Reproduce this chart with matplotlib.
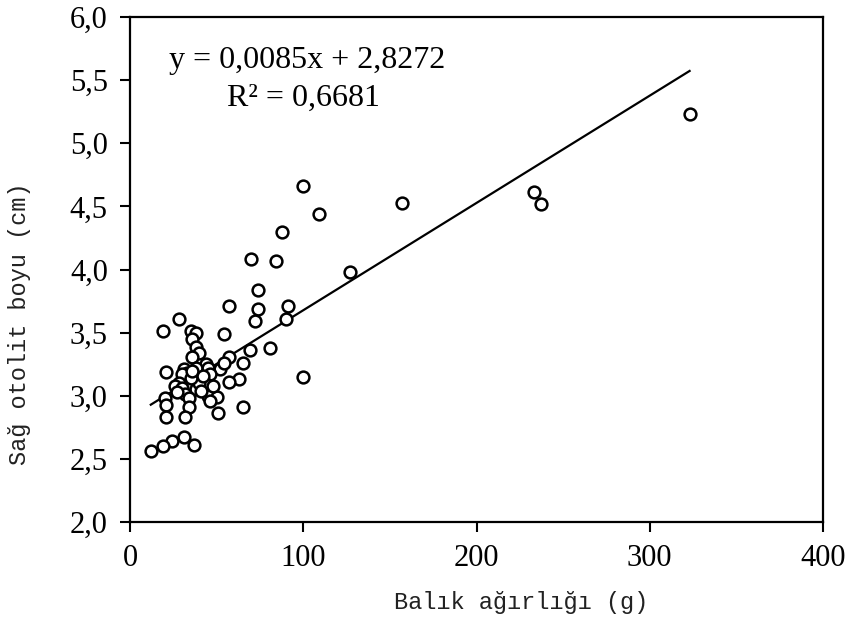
import numpy as np
import matplotlib
matplotlib.use('Agg')
import matplotlib.pyplot as plt

# fish weight (g) vs right otolith length (cm)
weight = [323, 100, 109, 157, 233, 237, 88, 70, 84, 127, 74, 57, 74, 91, 72, 90,
          28, 19, 35, 38, 54, 36, 38, 69, 81, 40, 36, 57, 65, 21, 52, 44, 45,
          31, 33, 30, 38, 46, 54, 100, 63, 57, 43, 28, 26, 30, 38, 40, 32, 45,
          50, 46, 34, 20, 21, 34, 65, 51, 21, 32, 31, 24, 19, 12, 37, 35, 42,
          27, 36, 41, 48]
otolith = [5.23, 4.66, 4.44, 4.53, 4.61, 4.52, 4.30, 4.08, 4.07, 3.98, 3.84, 3.71,
           3.69, 3.71, 3.59, 3.61, 3.61, 3.51, 3.51, 3.50, 3.49, 3.45, 3.39, 3.36,
           3.38, 3.34, 3.31, 3.31, 3.26, 3.19, 3.21, 3.25, 3.22, 3.21, 3.18, 3.17,
           3.22, 3.17, 3.26, 3.15, 3.13, 3.11, 3.11, 3.10, 3.08, 3.06, 3.05, 3.10,
           3.01, 3.00, 2.99, 2.96, 2.98, 2.98, 2.93, 2.91, 2.91, 2.86, 2.83, 2.83,
           2.67, 2.64, 2.60, 2.56, 2.61, 3.14, 3.16, 3.03, 3.20, 3.04, 3.08]

slope = 0.0085
intercept = 2.8272
r2 = 0.6681

x_ticks = [0, 100, 200, 300, 400]
y_ticks = [2.0, 2.5, 3.0, 3.5, 4.0, 4.5, 5.0, 5.5, 6.0]

serif = 'Liberation Serif'
mono = 'Liberation Mono'

fig = plt.figure(figsize=(8.5, 6.4), dpi=100)
ax = fig.add_axes([130/850, 1 - 522/640, 693/850, 505/640])

ax.scatter(weight, otolith, s=72, facecolors='white', edgecolors='black',
           linewidths=1.8, zorder=3)

# trend line over the data range
xl = np.array([min(weight), max(weight)])
ax.plot(xl, slope * xl + intercept, color='black', linewidth=1.6, zorder=2)

ax.set_xlim(0, 400)
ax.set_ylim(2.0, 6.0)
ax.set_xticks(x_ticks)
ax.set_yticks(y_ticks)
ax.set_xticklabels([str(t) for t in x_ticks], fontfamily=serif, fontsize=22)
ax.set_yticklabels([f'{t:.1f}'.replace('.', ',') for t in y_ticks],
                   fontfamily=serif, fontsize=22)
ax.tick_params(direction='out', length=7, width=1.5)
ax.tick_params(axis='x', pad=9)
ax.tick_params(axis='y', pad=9)
for s in ax.spines.values():
    s.set_linewidth(1.6)

eq = f'y = {slope:.4f}x + {intercept:.4f}'.replace('.', ',')
ax.text(0.255, 0.913, eq, transform=ax.transAxes, ha='center', va='center',
        fontfamily=serif, fontsize=23)
ax.text(0.250, 0.838, f'R² = {r2:.4f}'.replace('.', ','), transform=ax.transAxes,
        ha='center', va='center', fontfamily=serif, fontsize=23)

fig.text(521/850, 1 - 603/640, 'Balık ağırlığı (g)', ha='center', va='center',
         fontfamily=mono, fontsize=17, color='#222222')
fig.text(20/850, 1 - 324/640, 'Sağ otolit boyu (cm)', ha='center', va='center',
         rotation=90, fontfamily=mono, fontsize=17, color='#222222')

fig.savefig('out.png', dpi=100)
